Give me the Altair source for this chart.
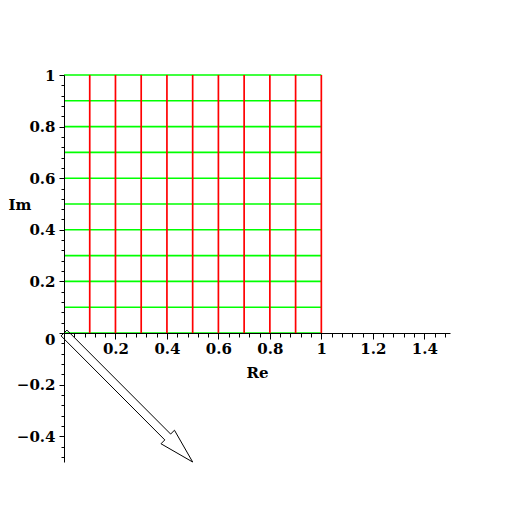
import altair as alt
import pandas as pd

# ---- data ----
red_x = [0.1, 0.2, 0.3, 0.4, 0.5, 0.6, 0.7, 0.8, 0.9, 1.0]     # vertical (red) lines, y from 0 to 1
green_y = [0.0, 0.1, 0.2, 0.3, 0.4, 0.5, 0.6, 0.7, 0.8, 0.9, 1.0]  # horizontal (green) lines, x from 0 to 1
seg_lo = 0.0
seg_hi = 1.0

# hollow arrow outline from (0,0) to (0.5,-0.5)
arrow_x = [0.0113, 0.4144, 0.4293, 0.5, 0.3769, 0.3917, -0.0113, 0.0113]
arrow_y = [0.0113, -0.3917, -0.3769, -0.5, -0.4293, -0.4144, -0.0113, 0.0113]

x_domain = [0.0, 1.5]
y_domain = [-0.5, 1.0]
x_ticks = [round(0.04 * i, 2) for i in range(0, 38)]
y_ticks = [round(-0.48 + 0.04 * i, 2) for i in range(0, 38)]

vert = pd.DataFrame({"x": red_x, "y0": [seg_lo] * len(red_x), "y1": [seg_hi] * len(red_x)})
horiz = pd.DataFrame({"y": green_y, "x0": [seg_lo] * len(green_y), "x1": [seg_hi] * len(green_y)})
arrow = pd.DataFrame({"x": arrow_x, "y": arrow_y, "o": list(range(len(arrow_x)))})

FONT = "DejaVu Serif"
FS = 15
major = "abs(datum.value*5 - round(datum.value*5)) < 0.001"

xs = alt.Scale(domain=x_domain, nice=False, zero=False)
ys = alt.Scale(domain=y_domain, nice=False, zero=False)

x_axis = alt.Axis(
    values=x_ticks,
    title="Re",
    grid=False,
    offset=-129,
    zindex=1,
    domainColor="black",
    domainWidth=1,
    tickColor="black",
    tickWidth=1,
    tickSize={"condition": {"test": major, "value": 6}, "value": 4},
    labelExpr=f"({major}) && datum.value != 0 ? format(datum.value, '~g') : ''",
    labelFont=FONT,
    labelFontWeight="bold",
    labelFontSize=FS,
    labelColor="black",
    labelPadding=2,
    labelOverlap=False,
    labelFlush=False,
    labelBound=False,
    titleFont=FONT,
    titleFontWeight="bold",
    titleFontSize=FS,
    titleColor="black",
    titleY=39,
    titleBaseline="middle",
)

y_axis = alt.Axis(
    values=y_ticks,
    title="Im",
    grid=False,
    zindex=1,
    domainColor="black",
    domainWidth=1,
    tickColor="black",
    tickWidth=1,
    tickSize={"condition": {"test": major, "value": 5}, "value": 3},
    labelExpr=f"({major}) ? format(datum.value, '~g') : ''",
    labelOffset={"condition": {"test": "datum.value == 0", "value": 6}, "value": 0},
    labelFont=FONT,
    labelFontWeight="bold",
    labelFontSize=FS,
    labelColor="black",
    labelPadding=4,
    labelOverlap=False,
    labelFlush=False,
    labelBound=False,
    titleFont=FONT,
    titleFontWeight="bold",
    titleFontSize=FS,
    titleColor="black",
    titleAngle=0,
    titleAlign="left",
    titleBaseline="middle",
    titleX=-56,
    titleY=129,
)

hlines = alt.Chart(horiz).mark_rule(color="#00ff00", strokeWidth=1.6).encode(
    y=alt.Y("y:Q", scale=ys, axis=y_axis),
    x=alt.X("x0:Q", scale=xs, axis=x_axis),
    x2="x1:Q",
)

vlines = alt.Chart(vert).mark_rule(color="#ff0000", strokeWidth=1.7).encode(
    x=alt.X("x:Q", scale=xs, axis=x_axis),
    y=alt.Y("y0:Q", scale=ys, axis=y_axis),
    y2="y1:Q",
)

arr = alt.Chart(arrow).mark_line(color="black", strokeWidth=1).encode(
    x=alt.X("x:Q", scale=xs, axis=x_axis),
    y=alt.Y("y:Q", scale=ys, axis=y_axis),
    order="o:Q",
)

chart = alt.layer(hlines, vlines, arr).properties(
    width=386,
    height=387,
    autosize="none",
    padding={"left": 56, "top": 67, "right": 40, "bottom": 30},
    background="white",
).configure_view(stroke=None)

chart.save("out.html", embed_options={"renderer": "svg", "actions": False})
